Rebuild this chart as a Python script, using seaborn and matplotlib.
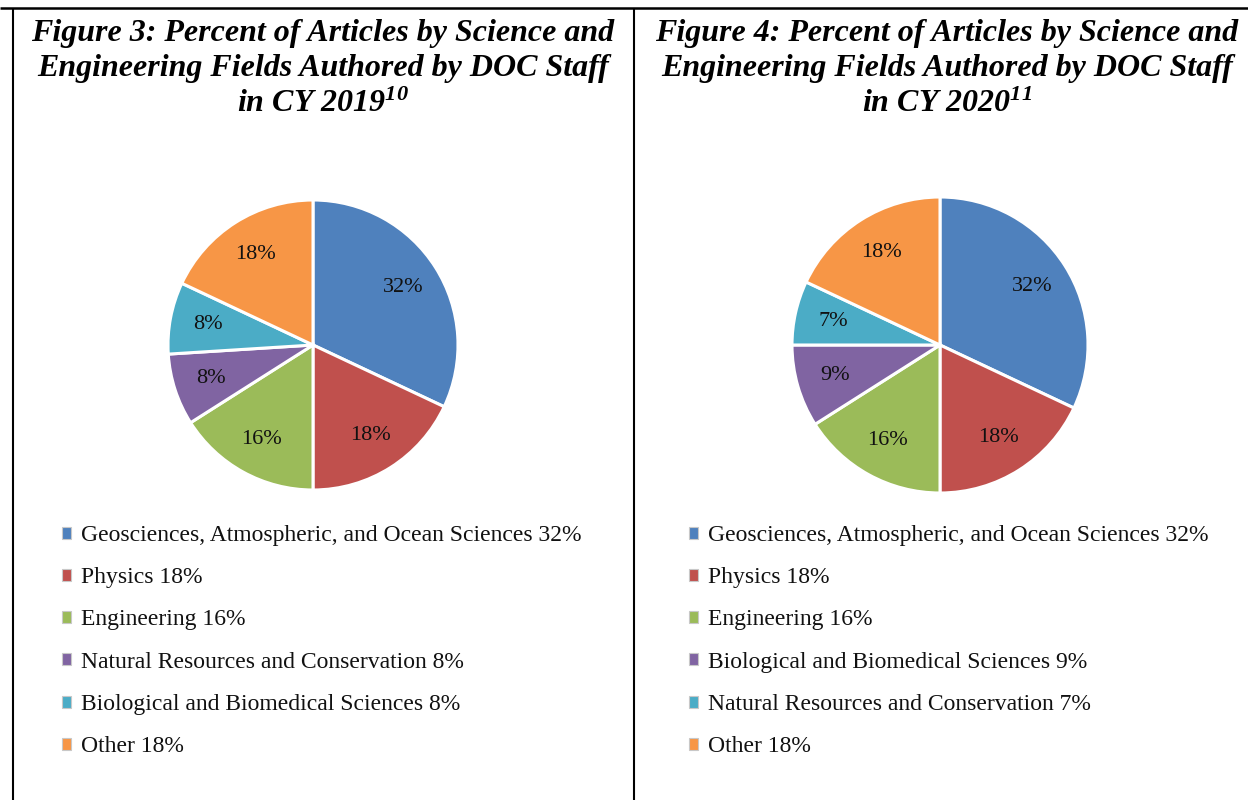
import matplotlib
matplotlib.use("Agg")
import matplotlib.pyplot as plt
from matplotlib.patches import Patch
from matplotlib.lines import Line2D
import seaborn as sns

# --- data ---
fields_2019 = ["Geosciences, Atmospheric, and Ocean Sciences", "Physics", "Engineering",
               "Natural Resources and Conservation", "Biological and Biomedical Sciences", "Other"]
values_2019 = [32, 18, 16, 8, 8, 18]
fields_2020 = ["Geosciences, Atmospheric, and Ocean Sciences", "Physics", "Engineering",
               "Biological and Biomedical Sciences", "Natural Resources and Conservation", "Other"]
values_2020 = [32, 18, 16, 9, 7, 18]
colors_2019 = ["#4F81BD", "#C0504D", "#9BBB59", "#8064A2", "#4BACC6", "#F79646"]
colors_2020 = ["#4F81BD", "#C0504D", "#9BBB59", "#8064A2", "#4BACC6", "#F79646"]
titles = ["Figure 3: Percent of Articles by Science and\nEngineering Fields Authored by DOC Staff\nin CY 2019$^{10}$",
          "Figure 4: Percent of Articles by Science and\nEngineering Fields Authored by DOC Staff\nin CY 2020$^{11}$"]

sns.set_theme(style="white")
plt.rcParams.update({
    'font.family': ['Liberation Serif', 'DejaVu Serif'],
    'text.color': 'black',
    'mathtext.fontset': 'custom',
    'mathtext.rm': 'Liberation Serif:bold:italic',
    'mathtext.it': 'Liberation Serif:bold:italic',
    'mathtext.bf': 'Liberation Serif:bold:italic',
})

W, H = 1248, 800
fig = plt.figure(figsize=(W / 100, H / 100), dpi=100)
fig.patch.set_facecolor("white")

# table-like borders
def fline(x0, y0, x1, y1, lw=1.5):
    fig.add_artist(Line2D([x0 / W, x1 / W], [1 - y0 / H, 1 - y1 / H], color="black", lw=lw,
                          solid_capstyle="butt"))

fline(0, 8, W, 8, lw=1.8)
fline(13, 8, 13, H)
fline(634, 8, 634, H)

panels = [
    dict(fields=fields_2019, values=values_2019, colors=colors_2019, title=titles[0],
         cx=313, cy=345, r=145, tx=323, lx=62),
    dict(fields=fields_2020, values=values_2020, colors=colors_2020, title=titles[1],
         cx=940, cy=345, r=148, tx=947, lx=689),
]

for p in panels:
    fig.text(p["tx"] / W, 1 - 19 / H, p["title"], ha="center", va="top", color="black",
             fontsize=23, fontweight="bold", fontstyle="italic", linespacing=1.28)

    half = 160
    ax = fig.add_axes([(p["cx"] - half) / W, (H - p["cy"] - half) / H, 2 * half / W, 2 * half / H])
    wedges, _, autotexts = ax.pie(
        p["values"], colors=p["colors"], startangle=90, counterclock=False,
        radius=p["r"] / half, autopct="%.0f%%", pctdistance=0.74,
        wedgeprops=dict(edgecolor="white", linewidth=2.2),
        textprops=dict(fontsize=16, color="#111111"))
    ax.set_xlim(-1, 1)
    ax.set_ylim(-1, 1)
    ax.set_aspect("equal")
    ax.axis("off")

    handles = [Patch(facecolor=c, edgecolor="#c8c8c8", linewidth=0.8) for c in p["colors"]]
    labels = [f"{f} {v}%" for f, v in zip(p["fields"], p["values"])]
    leg = fig.legend(handles, labels, loc="upper left",
                     bbox_to_anchor=(p["lx"] / W, 1 - 525 / H), frameon=False,
                     fontsize=17, handlelength=0.4, handleheight=0.4, handletextpad=0.4,
                     labelspacing=0.9, borderpad=0, borderaxespad=0)
    for t in leg.get_texts():
        t.set_color("#111111")

fig.savefig("out.png", dpi=100, facecolor="white")
